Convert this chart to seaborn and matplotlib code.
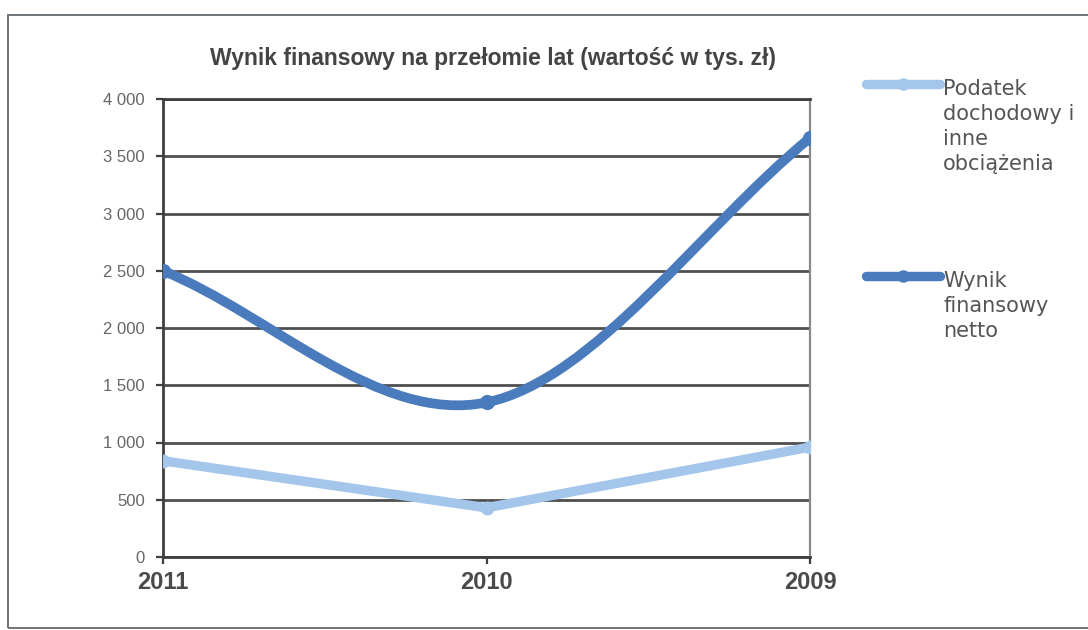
import matplotlib
matplotlib.use("Agg")
import matplotlib.pyplot as plt
from matplotlib.path import Path
from matplotlib.patches import PathPatch, Rectangle
from matplotlib.lines import Line2D
from matplotlib.ticker import FuncFormatter, MultipleLocator
import numpy as np
import pandas as pd
import seaborn as sns

# Data (thousand PLN)
years = ["2011", "2010", "2009"]
podatek = [840, 430, 960]          # Podatek dochodowy i inne obciążenia
wynik = [2500, 1350, 3660]         # Wynik finansowy netto

title = "Wynik finansowy na przełomie lat (wartość w tys. zł)"
label_podatek = "Podatek\ndochodowy i\ninne\nobciążenia"
label_wynik = "Wynik\nfinansowy\nnetto"

c_light = "#a3c6ea"
c_dark = "#4a7bbd"
grid_c = "#4f4f4f"

sns.set_theme(style="white")
plt.rcParams["font.family"] = ["Liberation Sans", "DejaVu Sans"]

W, H = 1088, 630
fig = plt.figure(figsize=(W / 100, H / 100), dpi=100)
fig.patch.set_facecolor("white")

# chart frame
fig.add_artist(Rectangle((8 / W, 1 - 628 / H), 1.2, (628 - 15) / H,
                         transform=fig.transFigure, fill=False,
                         edgecolor="#6f7478", lw=1.4))

ax = fig.add_axes([163 / W, 1 - 557 / H, (810 - 163) / W, (557 - 99) / H])

df = pd.DataFrame({"pos": np.arange(len(years)), "podatek": podatek, "wynik": wynik})

# straight line series
sns.lineplot(data=df, x="pos", y="podatek", ax=ax, color=c_light, lw=6.8,
             marker="o", markersize=10, markeredgewidth=0, zorder=4,
             solid_capstyle="round")

# smoothed series: cubic Bezier through the points (Catmull-Rom tangents)
pts = df[["pos", "wynik"]].to_numpy(dtype=float)
n = len(pts)
tangents = []
for i in range(n):
    if i == 0:
        tangents.append(pts[1] - pts[0])
    elif i == n - 1:
        tangents.append(pts[-1] - pts[-2])
    else:
        tangents.append((pts[i + 1] - pts[i - 1]) / 2)
verts = [tuple(pts[0])]
codes = [Path.MOVETO]
for i in range(n - 1):
    verts += [tuple(pts[i] + tangents[i] / 3),
              tuple(pts[i + 1] - tangents[i + 1] / 3),
              tuple(pts[i + 1])]
    codes += [Path.CURVE4] * 3
ax.add_patch(PathPatch(Path(verts, codes), facecolor="none", edgecolor=c_dark,
                       lw=7, zorder=5, capstyle="round", joinstyle="round"))
sns.scatterplot(data=df, x="pos", y="wynik", ax=ax, color=c_dark, s=120,
                linewidth=0, zorder=6)

ax.set_xlim(0, len(years) - 1)
ax.set_ylim(0, 4000)
ax.yaxis.set_major_locator(MultipleLocator(500))
ax.yaxis.set_major_formatter(FuncFormatter(lambda v, p: f"{int(v):,}".replace(",", " ")))
ax.set_xticks(df["pos"])
ax.set_xticklabels(years)
ax.set_xlabel("")
ax.set_ylabel("")

ax.grid(axis="y", color=grid_c, lw=2.0, zorder=1)
ax.grid(axis="x", visible=False)
ax.set_axisbelow(True)
for side in ["left", "bottom", "top"]:
    ax.spines[side].set_color("#3f3f3f")
    ax.spines[side].set_linewidth(2.0)
ax.spines["right"].set_color("#8a8a8a")
ax.spines["right"].set_linewidth(1.6)

ax.tick_params(axis="y", which="major", left=True, length=5, width=1.6,
               color="#3f3f3f", pad=8, labelsize=12, labelcolor="#666666")
ax.tick_params(axis="x", which="major", bottom=True, length=5, width=1.6,
               color="#3f3f3f", pad=5, labelsize=17, labelcolor="#4a4a4a")
for t in ax.get_xticklabels():
    t.set_fontweight("bold")

fig.text(493 / W, 1 - 58 / H, title, ha="center", va="center",
         fontsize=16.5, fontweight="bold", color="#444444")

# legend
for y_px, col, lab in [(84, c_light, label_podatek), (276, c_dark, label_wynik)]:
    yf = 1 - y_px / H
    fig.add_artist(Line2D([866 / W, 940 / W], [yf, yf], transform=fig.transFigure,
                          color=col, lw=6.8, marker=None))
    fig.add_artist(Line2D([903 / W], [yf], transform=fig.transFigure,
                          color=col, marker="o", markersize=9, markeredgewidth=0))
    fig.text(943 / W, 1 - (y_px - 5) / H, lab, ha="left", va="top",
             fontsize=15, color="#555555", family=["DejaVu Sans"],
             linespacing=1.32)

fig.savefig("out.png", dpi=100, facecolor="white")
